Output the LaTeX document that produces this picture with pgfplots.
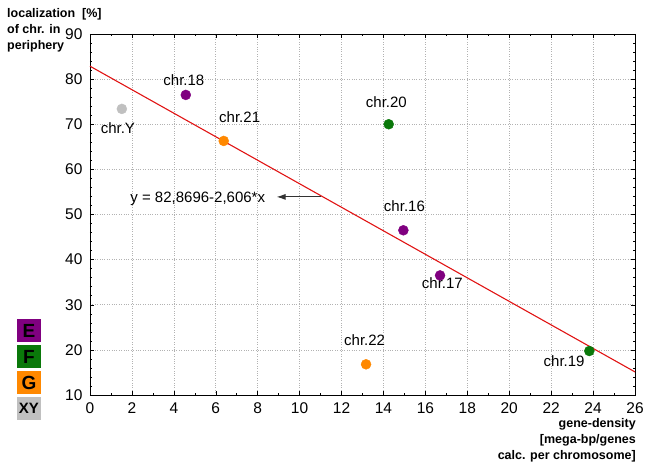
\documentclass[border=0pt]{standalone}
\usepackage{pgfplots}
\pgfplotsset{compat=1.18}
\usetikzlibrary{arrows.meta}
\usepackage{fontspec}
\setmainfont{Liberation Sans}
\definecolor{cE}{RGB}{128,0,128}
\definecolor{cF}{RGB}{10,120,10}
\definecolor{cG}{RGB}{255,136,0}
\definecolor{cXY}{RGB}{192,192,192}
\definecolor{lred}{RGB}{225,20,20}
\begin{document}
\begin{tikzpicture}[x=1pt,y=1pt]
\useasboundingbox (-90,-68) rectangle (555,395);
\begin{axis}[
  at={(0,0)}, anchor=south west,
  scale only axis, width=545pt, height=361pt,
  xmin=0, xmax=26, ymin=10, ymax=90,
  xtick={0,2,...,26}, ytick={10,20,...,90},
  minor x tick num=1, minor y tick num=4,
  tick align=inside, tick pos=both,
  major tick length=4pt, minor tick length=2.5pt,
  grid=major,
  major grid style={dotted, gray!60, line width=0.6pt},
  axis line style={line width=0.9pt},
  tick style={black, line width=0.5pt},
  /pgf/number format/assume math mode=true,
  ticklabel style={font=\fontsize{15.5}{17}\selectfont},
  xticklabel style={yshift=-4pt},
  yticklabel style={xshift=-4pt},
  clip=false,
]
\addplot[lred, line width=1.1pt] coordinates {(0,82.8696) (26,15.1136)};
\addplot[only marks, mark=*, mark size=5pt, draw=cXY, fill=cXY] coordinates {(1.52,73.4)};
\addplot[only marks, mark=*, mark size=5pt, draw=cE, fill=cE] coordinates {(4.57,76.5) (14.95,46.5) (16.7,36.5)};
\addplot[only marks, mark=*, mark size=5pt, draw=cG, fill=cG] coordinates {(6.38,66.3) (13.17,16.8)};
\addplot[only marks, mark=*, mark size=5pt, draw=cF, fill=cF] coordinates {(14.25,70.0) (23.82,19.75)};
\begin{scope}[font=\fontsize{15}{17}\selectfont]
\node at (axis cs:4.48,79.8) {chr.18};
\node at (axis cs:1.33,69.2) {chr.Y};
\node at (axis cs:7.14,71.6) {chr.21};
\node at (axis cs:14.14,75.0) {chr.20};
\node at (axis cs:15.0,51.8) {chr.16};
\node at (axis cs:16.81,34.9) {chr.17};
\node at (axis cs:13.10,22.2) {chr.22};
\node at (axis cs:22.62,17.6) {chr.19};
\node at (axis cs:5.14,53.5) {y = 82,8696-2,606*x};
\end{scope}
\draw[-{Latex[length=9pt,width=6pt]}, line width=1pt, black!80] (axis cs:11.0,53.9) -- (axis cs:8.9,53.9);
\end{axis}
\node[anchor=north west, align=left, font=\bfseries\fontsize{12.5}{16}\selectfont, inner sep=0pt] at (-83,387) {localization\ \ [\%]\\of chr. in\\periphery};
\node[anchor=north east, align=right, font=\bfseries\fontsize{12.5}{16}\selectfont, inner sep=0pt] at (546,-23) {gene-density\\{}[mega-bp/genes\\calc. per chromosome]};
\begin{scope}[font=\bfseries\fontsize{19}{20}\selectfont]
\fill[cE] (-73,53) rectangle (-49,76);
\node at (-61,64.5) {E};
\fill[cF] (-73,27) rectangle (-49,50);
\node at (-61,38.5) {F};
\fill[cG] (-73,1) rectangle (-49,24);
\node at (-61,12.5) {G};
\fill[cXY] (-73,-25) rectangle (-49,-2);
\node[font=\bfseries\fontsize{15}{16}\selectfont] at (-61,-13.5) {XY};
\end{scope}
\end{tikzpicture}
\end{document}
